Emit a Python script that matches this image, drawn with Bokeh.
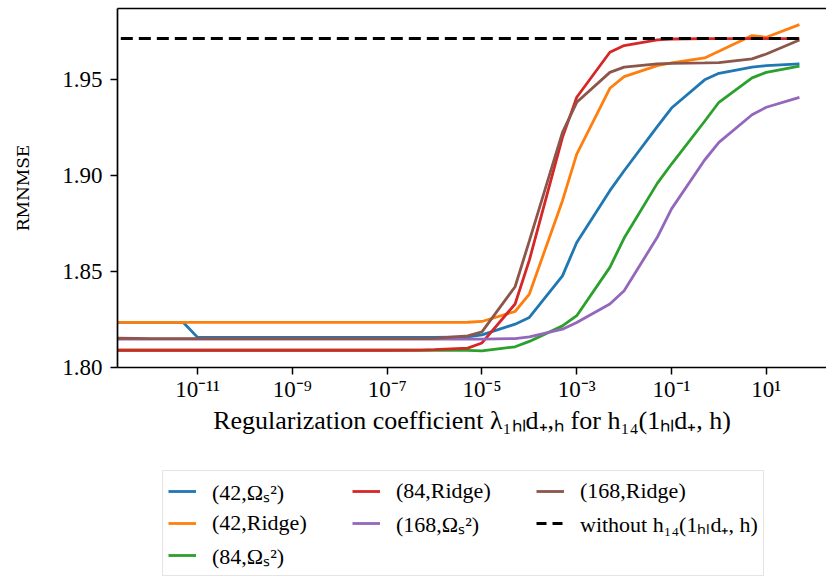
from bokeh.plotting import figure
from bokeh.layouts import column
from bokeh.models import (FixedTicker, CustomJSTickFormatter, Legend, LegendItem,
                          LinearAxis, NumeralTickFormatter, Range1d)
from bokeh.embed import file_html
from bokeh.resources import INLINE

# regularization coefficients (x)
lambdas = [1e-13, 5e-13, 1e-12, 5e-12, 1e-11, 5e-11, 1e-10, 5e-10, 1e-9, 5e-9,
           1e-8, 5e-8, 1e-7, 5e-7, 1e-6, 5e-6, 1e-5, 5e-5, 1e-4, 5e-4,
           1e-3, 5e-3, 1e-2, 5e-2, 1e-1, 5e-1, 1, 5, 10, 50]

s42_omega = [1.8235, 1.8235, 1.8235, 1.8235, 1.8157, 1.8157, 1.8157, 1.8157, 1.8157, 1.8157,
             1.8157, 1.8157, 1.8157, 1.8157, 1.8157, 1.8160, 1.8170, 1.8226, 1.8261, 1.8478,
             1.8652, 1.8922, 1.9026, 1.9256, 1.9353, 1.9500, 1.9534, 1.9566, 1.9574, 1.9583]
s42_ridge = [1.8235, 1.8235, 1.8235, 1.8235, 1.8235, 1.8235, 1.8235, 1.8235, 1.8235, 1.8235,
             1.8235, 1.8235, 1.8235, 1.8235, 1.8235, 1.8236, 1.8240, 1.8292, 1.8383, 1.8870,
             1.9113, 1.9456, 1.9517, 1.9574, 1.9588, 1.9614, 1.9649, 1.9731, 1.9722, 1.9788]
s84_omega = [1.8090, 1.8090, 1.8090, 1.8090, 1.8090, 1.8090, 1.8090, 1.8090, 1.8090, 1.8090,
             1.8090, 1.8090, 1.8090, 1.8090, 1.8090, 1.8089, 1.8087, 1.8108, 1.8136, 1.8217,
             1.8270, 1.8522, 1.8675, 1.8960, 1.9061, 1.9284, 1.9383, 1.9510, 1.9539, 1.9571]
s84_ridge = [1.8090, 1.8090, 1.8090, 1.8090, 1.8090, 1.8090, 1.8090, 1.8090, 1.8090, 1.8090,
             1.8090, 1.8090, 1.8090, 1.8091, 1.8093, 1.8101, 1.8128, 1.8331, 1.8560, 1.9200,
             1.9409, 1.9644, 1.9679, 1.9708, 1.9713, 1.9715, 1.9715, 1.9715, 1.9715, 1.9715]
s168_omega = [1.8148, 1.8148, 1.8148, 1.8148, 1.8148, 1.8148, 1.8148, 1.8148, 1.8148, 1.8148,
              1.8148, 1.8148, 1.8148, 1.8148, 1.8148, 1.8148, 1.8148, 1.8151, 1.8160, 1.8200,
              1.8235, 1.8331, 1.8400, 1.8679, 1.8827, 1.9082, 1.9174, 1.9318, 1.9357, 1.9409]
s168_ridge = [1.8153, 1.8152, 1.8151, 1.8151, 1.8151, 1.8151, 1.8151, 1.8151, 1.8151, 1.8151,
              1.8151, 1.8151, 1.8151, 1.8151, 1.8152, 1.8165, 1.8186, 1.8421, 1.8660, 1.9226,
              1.9383, 1.9539, 1.9566, 1.9583, 1.9586, 1.9588, 1.9590, 1.9609, 1.9635, 1.9708]
baseline = [1.9715] * len(lambdas)

series_labels = ["(42,Ωₛ²)", "(42,Ridge)", "(84,Ωₛ²)", "(84,Ridge)",
                 "(168,Ωₛ²)", "(168,Ridge)"]
baseline_label = "without h₁₄(1ₕₗd₊, h)"
colors = ["#1f77b4", "#ff7f0e", "#2ca02c", "#d62728", "#9467bd", "#8c564b"]

x_ticks = [1e-11, 1e-9, 1e-7, 1e-5, 1e-3, 1e-1, 10]
y_ticks = [1.80, 1.85, 1.90, 1.95]

SERIF = "Liberation Serif"
W = 826

p = figure(width=W, height=460, x_axis_type="log",
           x_range=Range1d(10 ** -12.69, 10 ** 2.27), y_range=Range1d(1.80, 1.9872),
           output_backend="svg", toolbar_location=None,
           min_border_left=117, min_border_right=0, min_border_top=8, min_border_bottom=93)
p.background_fill_color = "white"
p.border_fill_color = "white"
p.outline_line_color = None
p.xgrid.visible = False
p.ygrid.visible = False

series = [s42_omega, s42_ridge, s84_omega, s84_ridge, s168_omega, s168_ridge]
for ys, c in zip(series, colors):
    p.line(lambdas, ys, line_color=c, line_width=2.8)
p.line(lambdas, baseline, line_color="black", line_width=3, line_dash="12 6")

# axes styling
xa = p.xaxis[0]
xa.ticker = FixedTicker(ticks=x_ticks, minor_ticks=[])
xa.formatter = CustomJSTickFormatter(code="""
const sup = {'-':'\u207b','0':'\u2070','1':'\u00b9','2':'\u00b2','3':'\u00b3','4':'\u2074',
             '5':'\u2075','6':'\u2076','7':'\u2077','8':'\u2078','9':'\u2079'};
const e = Math.round(Math.log10(tick));
return '10' + String(e).split('').map(c => sup[c]).join('');
""")
xa.axis_label = "Regularization coefficient λ₁ₕₗd₊,ₕ for h₁₄(1ₕₗd₊, h)"
xa.axis_label_text_font = SERIF
xa.axis_label_text_font_size = "26px"
xa.axis_label_text_font_style = "normal"
xa.axis_label_standoff = 1
xa.major_label_text_font = SERIF
xa.major_label_text_font_size = "23px"
xa.major_label_standoff = 2

ya = p.yaxis[0]
ya.ticker = FixedTicker(ticks=y_ticks, minor_ticks=[])
ya.formatter = NumeralTickFormatter(format="0.00")
ya.axis_label = "RMNMSE"
ya.axis_label_text_font = "DejaVu Serif"
ya.axis_label_text_font_size = "17px"
ya.axis_label_text_font_style = "normal"
ya.axis_label_standoff = 26
ya.major_label_text_font = SERIF
ya.major_label_text_font_size = "23px"
ya.major_label_standoff = 8

for ax in (xa, ya):
    ax.axis_line_color = "black"
    ax.axis_line_width = 1.7
    ax.major_tick_line_color = "black"
    ax.major_tick_line_width = 1.5
    ax.major_tick_out = 7
    ax.major_tick_in = 0
    ax.minor_tick_line_color = None
    ax.major_label_text_color = "black"
    ax.axis_label_text_color = "black"

# top border of the frame
top = LinearAxis(ticker=FixedTicker(ticks=[]), major_label_text_font_size="0px",
                 major_tick_line_color=None, minor_tick_line_color=None,
                 major_tick_out=0, minor_tick_out=0, major_label_standoff=0,
                 axis_line_color="black", axis_line_width=1.7)
p.add_layout(top, "above")

# legend panel below the plot (legend keys share the series' line styles)
q = figure(width=W, height=117, x_range=Range1d(0, 1), y_range=Range1d(0, 1),
           output_backend="svg", toolbar_location=None,
           x_axis_location=None, y_axis_location=None,
           min_border_left=0, min_border_right=0, min_border_top=0, min_border_bottom=0)
q.outline_line_color = None
q.xgrid.visible = False
q.ygrid.visible = False
q.background_fill_color = "white"
q.border_fill_color = "white"

nan = float("nan")
keys = []
for c in colors:
    keys.append(q.line(x=[nan], y=[nan], line_color=c, line_width=2.8))
k_base = q.line(x=[nan], y=[nan], line_color="black", line_width=3, line_dash="10 6")

items = [
    LegendItem(label=series_labels[0], renderers=[keys[0]]),
    LegendItem(label=series_labels[3], renderers=[keys[3]]),
    LegendItem(label=series_labels[5], renderers=[keys[5]]),
    LegendItem(label=series_labels[1], renderers=[keys[1]]),
    LegendItem(label=series_labels[4], renderers=[keys[4]]),
    LegendItem(label=baseline_label, renderers=[k_base]),
    LegendItem(label=series_labels[2], renderers=[keys[2]]),
]
legend = Legend(items=items, ncols=3, orientation="horizontal",
                location=(45, 1),
                label_text_font=SERIF, label_text_font_size="22px",
                label_text_color="black",
                glyph_width=28, glyph_height=24, label_height=24, label_width=138,
                label_standoff=16, spacing=2, padding=5, margin=0,
                border_line_color="#cccccc", border_line_width=1.5,
                background_fill_color="white", background_fill_alpha=0.8)
q.add_layout(legend, "center")

with open("out.html", "w") as f:
    f.write(file_html(column(p, q), INLINE))
